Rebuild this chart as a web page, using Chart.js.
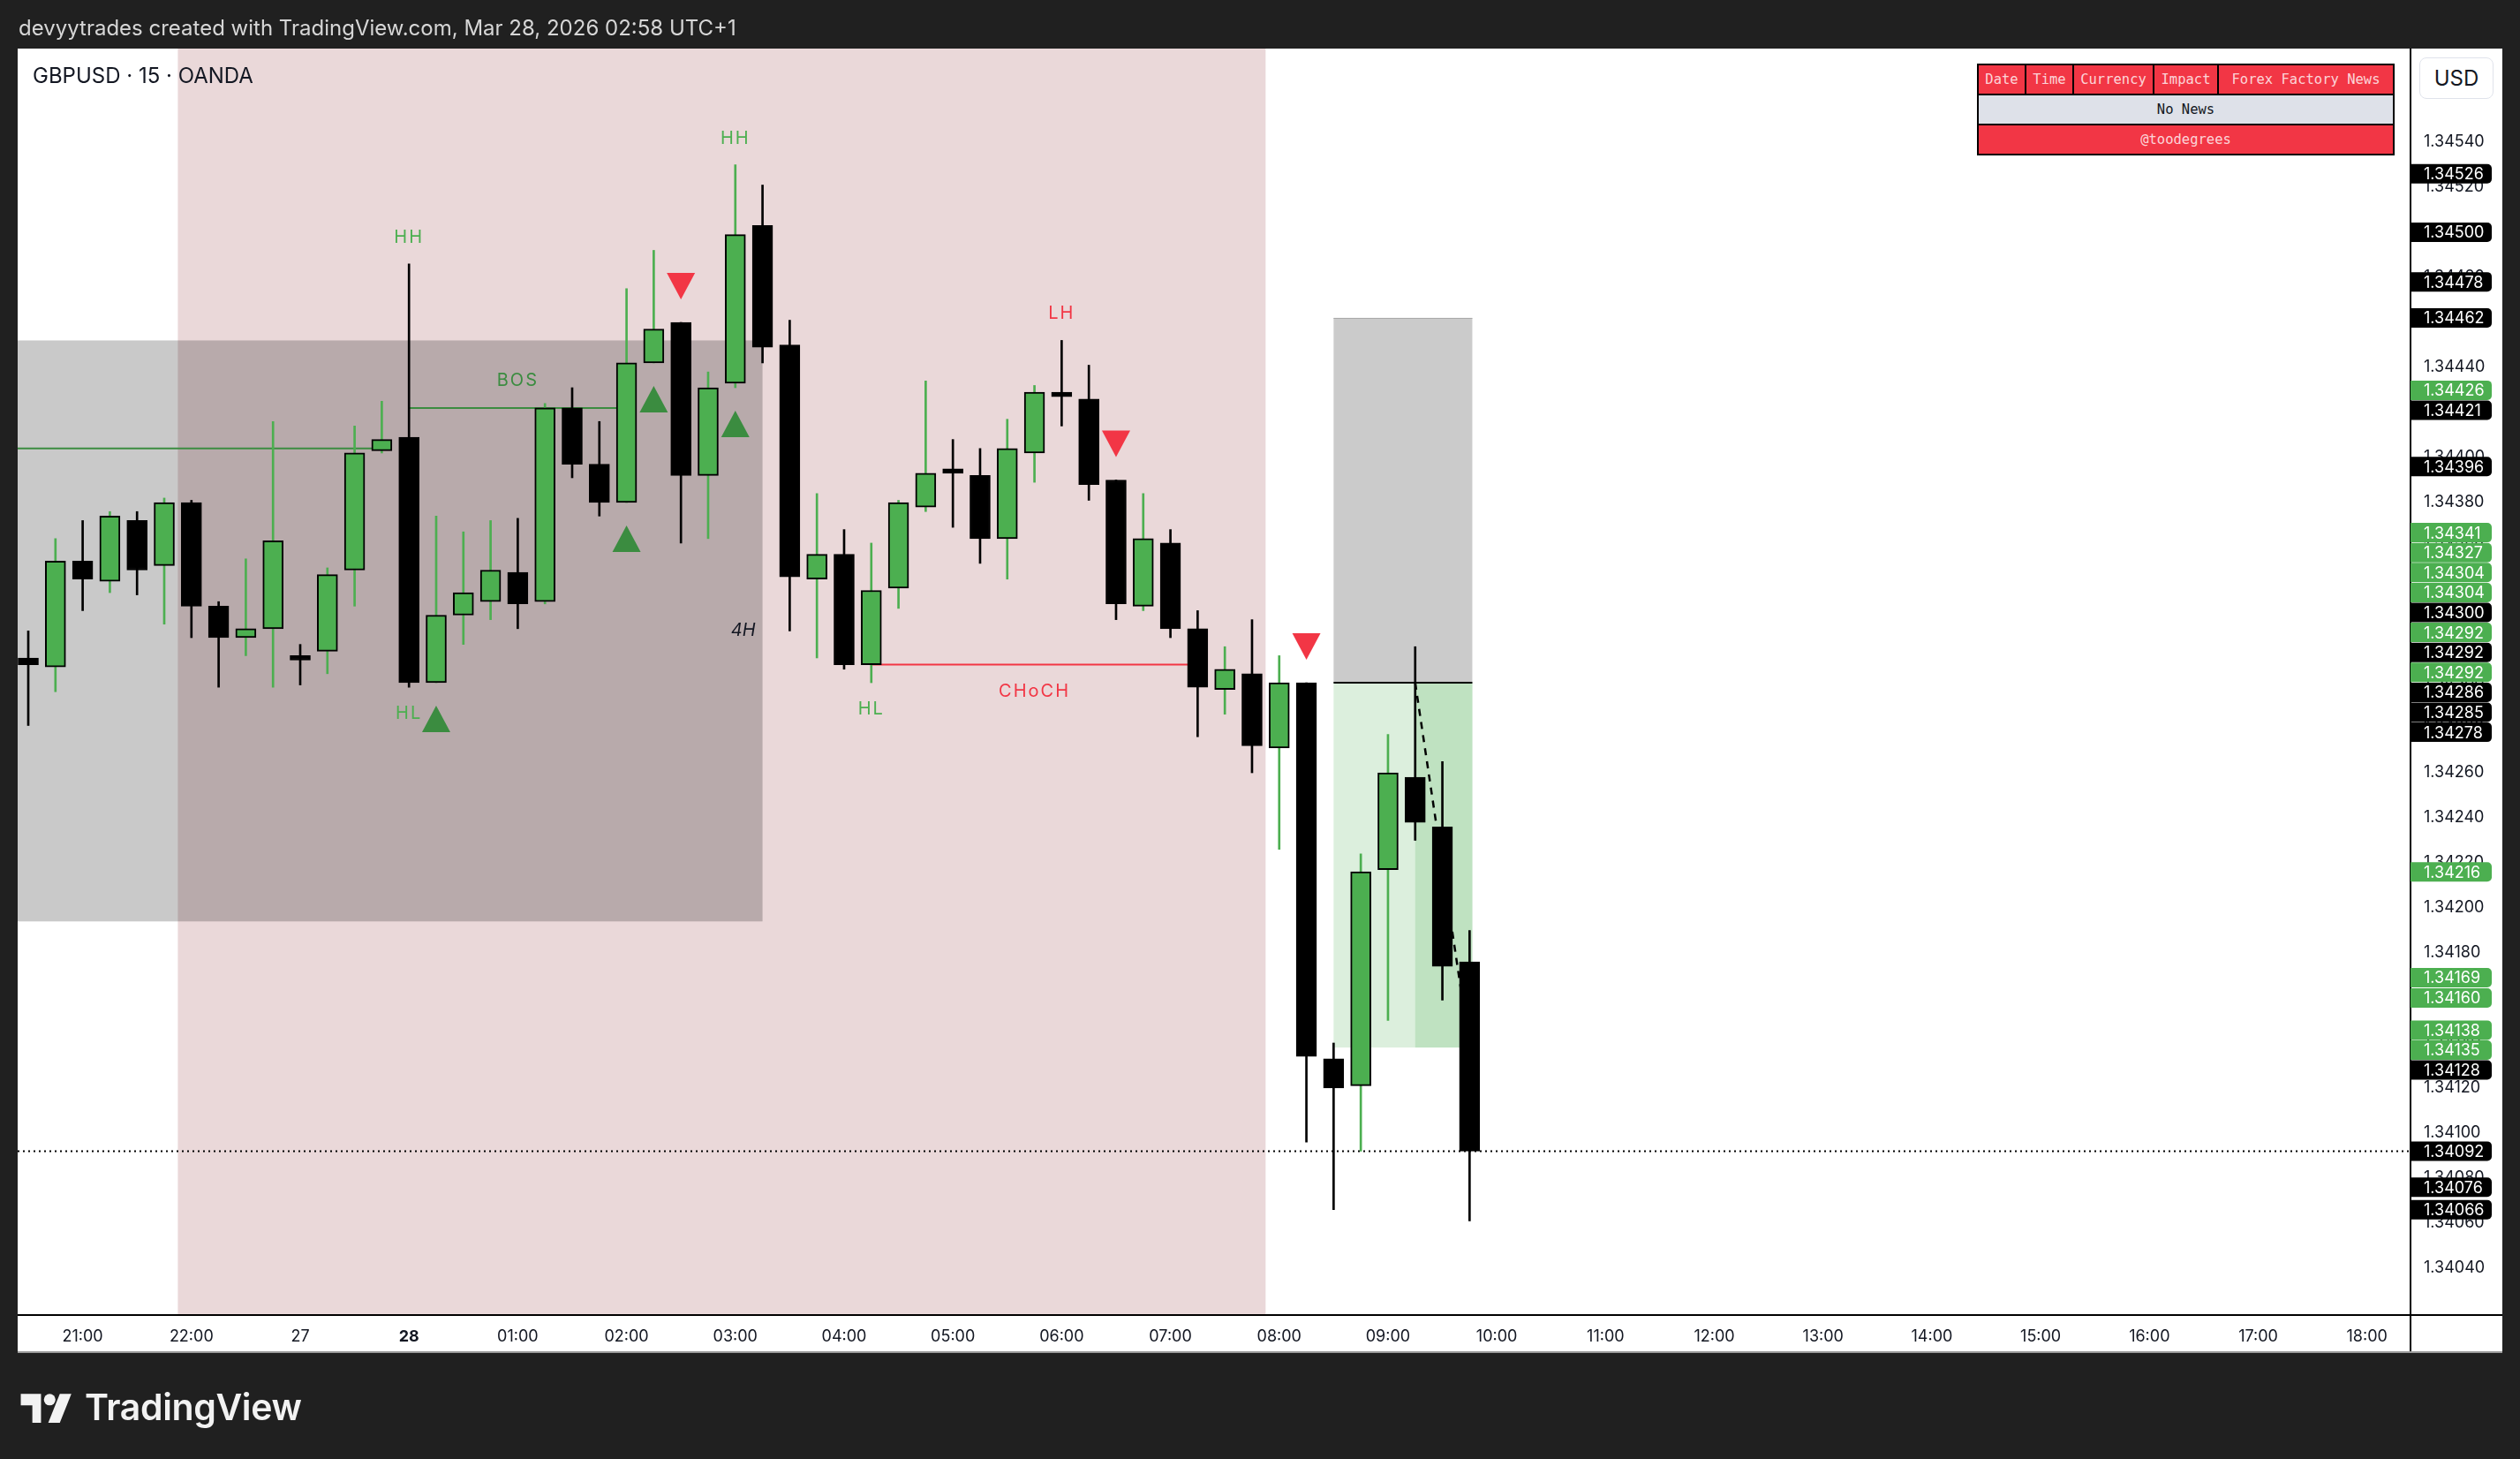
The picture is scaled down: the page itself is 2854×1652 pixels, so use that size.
<!DOCTYPE html>
<html>
<head>
<meta charset="utf-8">
<title>GBPUSD 15 OANDA</title>
<script src="https://cdn.jsdelivr.net/npm/chart.js@4.4.1/dist/chart.umd.min.js"></script>
<style>
  html, body { margin: 0; padding: 0; }
  body { width: 2854px; height: 1652px; background: #202020; position: relative; overflow: hidden; font-family: Inter, Roboto, sans-serif; }
  #chart { position: absolute; left: 0; top: 0; }
  .snap-title { position: absolute; left: 21px; top: 17px; font-size: 24px; color: #d6d6d6; white-space: nowrap; }
  .symbol { position: absolute; left: 37px; top: 71px; font-size: 24px; color: #131722; white-space: nowrap; }
  .usd { position: absolute; left: 2740px; top: 65px; width: 84px; height: 47px; box-sizing: border-box; border: 1px solid #e0e3eb; border-radius: 8px; background: #fff; font-size: 24px; color: #131722; display: flex; align-items: center; justify-content: center; }
  table.news { position: absolute; left: 2239px; top: 72px; width: 473px; border-collapse: collapse; font-family: "DejaVu Sans Mono", "Liberation Mono", monospace; font-size: 15.5px; }
  table.news td { border: 2px solid #000; text-align: center; padding: 0; height: 32px; }
  table.news tr.head td, table.news tr.foot td { background: #f23645; color: rgba(255,255,255,0.8); }
  table.news tr.body td { background: #dee1e9; color: #131722; }
  .brand { position: absolute; left: 22px; top: 1568px; display: flex; align-items: center; color: #f2f2f2; }
  .brand svg { width: 62px; height: 36px; margin-right: 12px; }
  .brand span { font-size: 41px; font-weight: 600; letter-spacing: -0.4px; }
</style>
</head>
<body>
<canvas id="chart" width="2854" height="1652"></canvas>
<div class="snap-title">devyytrades created with TradingView.com, Mar 28, 2026 02:58 UTC+1</div>
<div class="symbol">GBPUSD · 15 · OANDA</div>
<div class="usd">USD</div>
<table class="news">
  <tr class="head"><td style="width:52px">Date</td><td style="width:52px">Time</td><td style="width:89px">Currency</td><td style="width:71px">Impact</td><td>Forex Factory News</td></tr>
  <tr class="body"><td colspan="5">No News</td></tr>
  <tr class="foot"><td colspan="5">@toodegrees</td></tr>
</table>
<div class="brand">
  <svg viewBox="0 0 36 22"><path fill="#f2f2f2" d="M14 22H8V10H0V2h14v20z"/><circle fill="#f2f2f2" cx="20" cy="6" r="4"/><path fill="#f2f2f2" d="M27 2h8l-8 20h-8z"/></svg>
  <span>TradingView</span>
</div>
<script>
// 15 minute candles, first bar is 20:30
const opens  = [1.34311, 1.34307, 1.34354, 1.34345, 1.34372, 1.34352, 1.34380, 1.34334, 1.34320, 1.34324,
                1.34312, 1.34314, 1.34350, 1.34403, 1.34409, 1.34300, 1.34330, 1.34336, 1.34349, 1.34336,
                1.34422, 1.34397, 1.34380, 1.34442, 1.34460, 1.34392, 1.34433, 1.34503, 1.34450, 1.34346,
                1.34357, 1.34308, 1.34342, 1.34378, 1.34395, 1.34392, 1.34364, 1.34402, 1.34429, 1.34426,
                1.34390, 1.34334, 1.34362, 1.34324, 1.34297, 1.34304, 1.34271, 1.34300, 1.34133, 1.34121,
                1.34217, 1.34258, 1.34236, 1.34176];
const highs  = [1.34323, 1.34364, 1.34372, 1.34376, 1.34376, 1.34382, 1.34381, 1.34336, 1.34355, 1.34416,
                1.34317, 1.34351, 1.34414, 1.34425, 1.34486, 1.34374, 1.34367, 1.34372, 1.34373, 1.34424,
                1.34431, 1.34416, 1.34475, 1.34492, 1.34460, 1.34438, 1.34530, 1.34521, 1.34461, 1.34384,
                1.34368, 1.34362, 1.34381, 1.34434, 1.34408, 1.34404, 1.34417, 1.34432, 1.34452, 1.34441,
                1.34390, 1.34384, 1.34368, 1.34332, 1.34316, 1.34328, 1.34312, 1.34300, 1.34140, 1.34224,
                1.34277, 1.34316, 1.34265, 1.34190];
const lows   = [1.34281, 1.34296, 1.34332, 1.34340, 1.34339, 1.34326, 1.34320, 1.34298, 1.34312, 1.34298,
                1.34299, 1.34304, 1.34334, 1.34402, 1.34298, 1.34300, 1.34317, 1.34328, 1.34324, 1.34335,
                1.34391, 1.34374, 1.34380, 1.34442, 1.34362, 1.34364, 1.34431, 1.34442, 1.34323, 1.34311,
                1.34306, 1.34300, 1.34333, 1.34376, 1.34369, 1.34353, 1.34346, 1.34389, 1.34414, 1.34381,
                1.34328, 1.34332, 1.34320, 1.34276, 1.34286, 1.34260, 1.34226, 1.34096, 1.34066, 1.34092,
                1.34150, 1.34230, 1.34159, 1.34061];
const closes = [1.34308, 1.34354, 1.34346, 1.34374, 1.34350, 1.34380, 1.34334, 1.34320, 1.34324, 1.34363,
                1.34310, 1.34348, 1.34402, 1.34408, 1.34300, 1.34330, 1.34340, 1.34350, 1.34335, 1.34422,
                1.34397, 1.34380, 1.34442, 1.34457, 1.34392, 1.34431, 1.34499, 1.34449, 1.34347, 1.34357,
                1.34308, 1.34341, 1.34380, 1.34393, 1.34393, 1.34364, 1.34404, 1.34429, 1.34427, 1.34388,
                1.34335, 1.34364, 1.34324, 1.34298, 1.34306, 1.34272, 1.34300, 1.34134, 1.34120, 1.34216,
                1.34260, 1.34238, 1.34174, 1.34092];

// time axis
const timeTickIdx = [2, 6, 10, 14, 18, 22, 26, 30, 34, 38, 42, 46, 50, 54, 58, 62, 66, 70, 74, 78, 82, 86];
const timeLabels  = ['21:00', '22:00', '27', '28', '01:00', '02:00', '03:00', '04:00', '05:00', '06:00', '07:00',
                     '08:00', '09:00', '10:00', '11:00', '12:00', '13:00', '14:00', '15:00', '16:00', '17:00', '18:00'];
const priceTicks  = [1.34040, 1.34060, 1.34080, 1.34100, 1.34120, 1.34140, 1.34160, 1.34180, 1.34200, 1.34220,
                     1.34240, 1.34260, 1.34280, 1.34300, 1.34320, 1.34340, 1.34360, 1.34380, 1.34400, 1.34420,
                     1.34440, 1.34460, 1.34480, 1.34500, 1.34520, 1.34540];

// visible range
const xRange = [-0.39, 87.6];
const yRange = [1.340192, 1.345816];

// drawings
const sessionSpan = [5.5, 45.5];
const rangeBoxEnd = 27;
const rangeBoxPrices = [1.34194, 1.34452];
const priorLevel = 1.34404, priorLevelEnd = 13;
const bosLevel = 1.34422, bosSpan = [14, 22];
const chochLevel = 1.34308, chochSpan = [31, 43];
const swingIdx   = [14, 14, 26, 31, 38];
const swingTexts = ['HH', 'HL', 'HH', 'HL', 'LH'];
const buyMarks  = [15, 22, 23, 26];
const sellMarks = [24, 40, 47];
const lastPrice = 1.34092;

// short position tool
const posSpan = [48, 53.1];
const posFillFrom = 51;
const posEntry = 1.34300, posStop = 1.34462, posTarget = 1.34138;
const tradePath = [[51, 1.34300], [53, 1.34138]];

// price scale tags (top to bottom)
const tagPrices = [1.34526, 1.34500, 1.34478, 1.34462, 1.34426, 1.34421, 1.34396, 1.34341, 1.34327, 1.34304,
                   1.34304, 1.34300, 1.34292, 1.34292, 1.34292, 1.34286, 1.34285, 1.34278, 1.34216, 1.34169,
                   1.34160, 1.34138, 1.34135, 1.34128, 1.34092, 1.34076, 1.34066];
const tagColors = ['k', 'k', 'k', 'k', 'g', 'k', 'k', 'g', 'g', 'g',
                   'g', 'k', 'g', 'k', 'g', 'k', 'k', 'k', 'g', 'g',
                   'g', 'g', 'g', 'k', 'k', 'k', 'k'];

const UP = '#4caf50';
const DOWN = '#000000';
const isUp = opens.map((o, i) => closes[i] >= o);

const overlay = {
  id: 'overlay',
  beforeDraw(chart) {
    const ctx = chart.ctx;
    ctx.save();
    ctx.fillStyle = '#202020';
    ctx.fillRect(0, 0, chart.width, chart.height);
    ctx.fillStyle = '#ffffff';
    ctx.fillRect(20, 55, 2814, 1476);
    ctx.restore();
  },
  beforeDatasetsDraw(chart) {
    const { ctx, chartArea: a, scales: { x, y } } = chart;
    const X = v => x.getPixelForValue(v);
    const Y = v => y.getPixelForValue(v);
    ctx.save();
    ctx.beginPath();
    ctx.rect(a.left, a.top, a.right - a.left, a.bottom - a.top);
    ctx.clip();

    // session background
    ctx.fillStyle = '#ead8d9';
    ctx.fillRect(X(sessionSpan[0]), a.top, X(sessionSpan[1]) - X(sessionSpan[0]), a.bottom - a.top);

    // 4H range box
    ctx.fillStyle = 'rgba(0,0,0,0.21)';
    ctx.fillRect(a.left, Y(rangeBoxPrices[1]), X(rangeBoxEnd) - a.left, Y(rangeBoxPrices[0]) - Y(rangeBoxPrices[1]));
    ctx.fillStyle = '#131722';
    ctx.font = 'italic 20px Inter, Roboto, sans-serif';
    ctx.textAlign = 'right';
    ctx.textBaseline = 'middle';
    ctx.fillText('4H', X(rangeBoxEnd) - 8, (Y(rangeBoxPrices[0]) + Y(rangeBoxPrices[1])) / 2);

    // position tool
    const px0 = X(posSpan[0]), px1 = X(posSpan[1]), pf = X(posFillFrom);
    ctx.fillStyle = '#cbcbcb';
    ctx.fillRect(px0, Y(posStop), px1 - px0, Y(posEntry) - Y(posStop));
    ctx.fillStyle = '#dcefdd';
    ctx.fillRect(px0, Y(posEntry), px1 - px0, Y(posTarget) - Y(posEntry));
    ctx.fillStyle = '#bfe2c1';
    ctx.fillRect(pf, Y(posEntry), px1 - pf, Y(posTarget) - Y(posEntry));
    ctx.strokeStyle = '#a9a9a9';
    ctx.lineWidth = 1;
    ctx.beginPath(); ctx.moveTo(px0, Y(posStop) + 0.5); ctx.lineTo(px1, Y(posStop) + 0.5); ctx.stroke();
    ctx.strokeStyle = '#000';
    ctx.lineWidth = 2;
    ctx.beginPath(); ctx.moveTo(px0, Y(posEntry)); ctx.lineTo(px1, Y(posEntry)); ctx.stroke();

    // structure lines
    const hline = (x0, x1, p, color) => {
      ctx.strokeStyle = color;
      ctx.lineWidth = 2;
      ctx.beginPath(); ctx.moveTo(x0, Y(p)); ctx.lineTo(x1, Y(p)); ctx.stroke();
    };
    hline(a.left, X(priorLevelEnd), priorLevel, '#3b8c40');
    hline(X(bosSpan[0]), X(bosSpan[1]), bosLevel, '#3b8c40');
    hline(X(chochSpan[0]), X(chochSpan[1]), chochLevel, '#f23645');

    // last price dotted line
    ctx.strokeStyle = '#000';
    ctx.lineWidth = 2;
    ctx.setLineDash([2, 4]);
    ctx.beginPath(); ctx.moveTo(a.left, Y(lastPrice)); ctx.lineTo(a.right, Y(lastPrice)); ctx.stroke();
    ctx.setLineDash([]);
    ctx.restore();
  },
  afterDatasetsDraw(chart) {
    const { ctx, chartArea: a, scales: { x, y } } = chart;
    const X = v => x.getPixelForValue(v);
    const Y = v => y.getPixelForValue(v);
    ctx.save();
    ctx.beginPath();
    ctx.rect(a.left, a.top, a.right - a.left, a.bottom - a.top);
    ctx.clip();

    // trade path
    ctx.strokeStyle = '#000';
    ctx.lineWidth = 2.5;
    ctx.setLineDash([8, 7]);
    ctx.beginPath();
    ctx.moveTo(X(tradePath[0][0]), Y(tradePath[0][1]));
    ctx.lineTo(X(tradePath[1][0]), Y(tradePath[1][1]));
    ctx.stroke();
    ctx.setLineDash([]);

    // signal triangles
    ctx.fillStyle = '#3b8c40';
    buyMarks.forEach(i => {
      const cx = X(i), cy = Y(lows[i]) + 41;
      ctx.beginPath(); ctx.moveTo(cx, cy - 15); ctx.lineTo(cx + 16, cy + 15); ctx.lineTo(cx - 16, cy + 15); ctx.closePath(); ctx.fill();
    });
    ctx.fillStyle = '#f23645';
    sellMarks.forEach(i => {
      const cx = X(i), cy = Y(highs[i]) - 41;
      ctx.beginPath(); ctx.moveTo(cx - 16, cy - 15); ctx.lineTo(cx + 16, cy - 15); ctx.lineTo(cx, cy + 15); ctx.closePath(); ctx.fill();
    });

    // swing labels
    ctx.font = '20px Inter, Roboto, sans-serif';
    if ('letterSpacing' in ctx) ctx.letterSpacing = '2px';
    ctx.textAlign = 'center';
    ctx.textBaseline = 'middle';
    swingTexts.forEach((t, k) => {
      const i = swingIdx[k];
      const high = t === 'HH' || t === 'LH';
      ctx.fillStyle = t === 'LH' ? '#f23645' : UP;
      ctx.fillText(t, X(i), high ? Y(highs[i]) - 30 : Y(lows[i]) + 30);
    });
    ctx.fillStyle = '#3b8c40';
    ctx.fillText('BOS', X((bosSpan[0] + bosSpan[1]) / 2), Y(bosLevel) - 31);
    ctx.fillStyle = '#f23645';
    ctx.fillText('CHoCH', X((chochSpan[0] + chochSpan[1]) / 2), Y(chochLevel) + 30);
    ctx.restore();
  },
  afterDraw(chart) {
    const { ctx, chartArea: a, scales: { y } } = chart;
    ctx.save();
    // axis frame
    ctx.strokeStyle = '#000';
    ctx.lineWidth = 2;
    ctx.beginPath();
    ctx.moveTo(a.right, 55); ctx.lineTo(a.right, 1531);
    ctx.moveTo(20, a.bottom); ctx.lineTo(2834, a.bottom);
    ctx.stroke();
    ctx.strokeStyle = '#9a9a9a';
    ctx.beginPath(); ctx.moveTo(20, 1531); ctx.lineTo(2834, 1531); ctx.stroke();

    // price tags, stacked upward from the lowest
    const h = 22.6;
    const pos = new Array(tagPrices.length);
    let prev = Infinity;
    for (let k = tagPrices.length - 1; k >= 0; k--) {
      const t = Math.min(y.getPixelForValue(tagPrices[k]), prev - h);
      pos[k] = t;
      prev = t;
    }
    ctx.font = '18px Inter, Roboto, sans-serif';
    ctx.textAlign = 'left';
    ctx.textBaseline = 'middle';
    tagPrices.forEach((p, k) => {
      const cy = pos[k];
      ctx.fillStyle = tagColors[k] === 'g' ? UP : '#000';
      ctx.beginPath();
      ctx.roundRect(a.right, cy - 11, 92, 22, [0, 5, 5, 0]);
      ctx.fill();
      ctx.fillStyle = '#fff';
      ctx.fillText(p.toFixed(5), a.right + 15, cy + 1);
    });
    ctx.restore();
  }
};

new Chart(document.getElementById('chart'), {
  type: 'bar',
  data: {
    datasets: [
      {
        label: 'wicks',
        data: opens.map((o, i) => ({ x: i, y: [lows[i], highs[i]] })),
        backgroundColor: isUp.map(u => u ? UP : DOWN),
        borderWidth: 0,
        barThickness: 2,
        grouped: false,
        order: 2
      },
      {
        label: 'bodies',
        data: opens.map((o, i) => ({ x: i, y: [o, closes[i]] })),
        backgroundColor: isUp.map(u => u ? UP : DOWN),
        borderColor: '#000',
        borderWidth: 2,
        borderSkipped: false,
        barThickness: 23,
        grouped: false,
        order: 1
      }
    ]
  },
  options: {
    responsive: false,
    animation: false,
    devicePixelRatio: 1,
    layout: { padding: { left: 20, top: 55, right: 20, bottom: 121 } },
    plugins: { legend: { display: false }, tooltip: { enabled: false } },
    scales: {
      x: {
        type: 'linear',
        min: xRange[0],
        max: xRange[1],
        offset: false,
        grid: { display: false, drawTicks: false },
        border: { display: false },
        afterBuildTicks: s => { s.ticks = timeTickIdx.map(v => ({ value: v })); },
        afterFit: s => { s.height = 42; },
        ticks: {
          autoSkip: false,
          maxRotation: 0,
          padding: 14,
          color: '#131722',
          font: c => ({ family: 'Inter, Roboto, sans-serif', size: 18, weight: c.index === 3 ? 'bold' : 'normal' }),
          callback: (v, i) => timeLabels[i]
        }
      },
      y: {
        position: 'right',
        min: yRange[0],
        max: yRange[1],
        grid: { display: false, drawTicks: false },
        border: { display: false },
        afterBuildTicks: s => { s.ticks = priceTicks.map(v => ({ value: v })); },
        afterFit: s => { s.width = 104; },
        ticks: {
          padding: 15,
          color: '#131722',
          font: { family: 'Inter, Roboto, sans-serif', size: 18 },
          callback: v => v.toFixed(5)
        }
      }
    }
  },
  plugins: [overlay]
});
</script>
</body>
</html>
